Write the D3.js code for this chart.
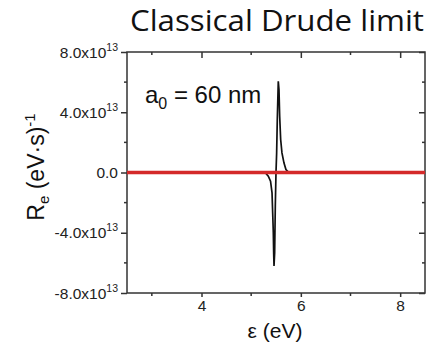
<!DOCTYPE html>
<html>
<head>
<meta charset="utf-8">
<script src="https://cdn.jsdelivr.net/npm/d3@7"></script>
<style>
  body { margin: 0; background: #fff; }
  svg { display: block; }
  .tick-label { font-family: "Liberation Sans", Arial, sans-serif; font-size: 15.5px; fill: #222; }
</style>
</head>
<body>
<svg id="chart" width="431" height="348"></svg>
<script>
// data (rate in units of 1e13 (eV·s)^-1)
const energy = [5.28, 5.345, 5.39, 5.42, 5.433, 5.446, 5.453, 5.46, 5.473, 5.486, 5.5, 5.513, 5.526, 5.546, 5.56, 5.574, 5.594, 5.62, 5.66, 5.70, 5.75];
const rate = [0, -0.24, -0.58, -1.35, -2.67, -4.0, -5.33, -6.2, -5.33, -2.23, 0, 1.3, 3.5, 6.05, 5.5, 3.73, 2.19, 1.3, 0.64, 0.2, 0.03];
const drudeEnergy = [2.5, 8.5];
const drudeRate = [0, 0];

const xDomain = [2.5, 8.5];
const yDomain = [-8e13, 8e13];
const xMajor = [4, 6, 8];
const xMinor = [3, 5, 7];
const yMajor = [-8e13, -4e13, 0, 4e13, 8e13];
const yMinor = [-6e13, -2e13, 2e13, 6e13];
const yTickText = ["-8.0x10", "-4.0x10", "0.0", "4.0x10", "8.0x10"];
const yTickExp = ["13", "13", "", "13", "13"];

const svg = d3.select("#chart");
const margin = {top: 52, right: 6, bottom: 55, left: 127};
const W = +svg.attr("width"), H = +svg.attr("height");

const x = d3.scaleLinear().domain(xDomain).range([margin.left, W - margin.right]);
const y = d3.scaleLinear().domain(yDomain).range([H - margin.bottom, margin.top]);

const axisColor = "#333";

// frame
svg.append("rect")
  .attr("x", x.range()[0]).attr("y", y.range()[1])
  .attr("width", x.range()[1] - x.range()[0])
  .attr("height", y.range()[0] - y.range()[1])
  .attr("fill", "none").attr("stroke", axisColor).attr("stroke-width", 1.5);

// bottom axis: outward ticks
const gBottom = svg.append("g").attr("transform", `translate(0,${y.range()[0]})`);
gBottom.call(d3.axisBottom(x).tickValues(xMajor).tickSize(4).tickFormat(d3.format("d")).tickPadding(3))
  .call(g => g.select(".domain").remove())
  .call(g => g.selectAll("line").attr("stroke", axisColor).attr("stroke-width", 1.5))
  .call(g => g.selectAll("text").attr("class", "tick-label"));
gBottom.attr("font-size", null).attr("font-family", null);
gBottom.selectAll(".minor").data(xMinor).enter().append("line")
  .attr("x1", d => x(d)).attr("x2", d => x(d)).attr("y1", 0).attr("y2", 3)
  .attr("stroke", axisColor).attr("stroke-width", 1.5);

// top axis: inward ticks
const gTop = svg.append("g").attr("transform", `translate(0,${y.range()[1]})`);
gTop.call(d3.axisBottom(x).tickValues(xMajor).tickSize(6).tickFormat(""))
  .call(g => g.select(".domain").remove())
  .call(g => g.selectAll("line").attr("stroke", axisColor).attr("stroke-width", 1.5));
gTop.selectAll(".minor").data(xMinor).enter().append("line")
  .attr("x1", d => x(d)).attr("x2", d => x(d)).attr("y1", 0).attr("y2", 3)
  .attr("stroke", axisColor).attr("stroke-width", 1.5);

// left axis: outward ticks, labels with superscript exponent
const gLeft = svg.append("g").attr("transform", `translate(${x.range()[0]},0)`);
gLeft.call(d3.axisLeft(y).tickValues(yMajor).tickSize(6).tickFormat(""))
  .call(g => g.select(".domain").remove())
  .call(g => g.selectAll("line").attr("stroke", axisColor).attr("stroke-width", 1.5));
gLeft.selectAll(".minor").data(yMinor).enter().append("line")
  .attr("x1", 0).attr("x2", -3).attr("y1", d => y(d)).attr("y2", d => y(d))
  .attr("stroke", axisColor).attr("stroke-width", 1.5);
const ylab = gLeft.selectAll(".ylab").data(yMajor).enter().append("text")
  .attr("class", "tick-label")
  .attr("text-anchor", "end")
  .attr("x", -9)
  .attr("y", d => y(d) + 5.5);
ylab.append("tspan").text((d, i) => yTickText[i]);
ylab.append("tspan").attr("font-size", 10.5).attr("dy", -7).text((d, i) => yTickExp[i]);

// right axis: inward ticks
const gRight = svg.append("g").attr("transform", `translate(${x.range()[1]},0)`);
gRight.call(d3.axisRight(y).tickValues(yMajor).tickSize(-6).tickFormat(""))
  .call(g => g.select(".domain").remove())
  .call(g => g.selectAll("line").attr("stroke", axisColor).attr("stroke-width", 1.5));
gRight.selectAll(".minor").data(yMinor).enter().append("line")
  .attr("x1", 0).attr("x2", -3).attr("y1", d => y(d)).attr("y2", d => y(d))
  .attr("stroke", axisColor).attr("stroke-width", 1.5);

// curve
const line = d3.line().x(d => x(d)).y((d, i) => y(rate[i] * 1e13));
svg.append("path").datum(energy)
  .attr("d", line)
  .attr("fill", "none").attr("stroke", "#111").attr("stroke-width", 1.7);

// classical Drude limit (red line at zero)
const redLine = d3.line().x(d => x(d)).y((d, i) => y(drudeRate[i]));
svg.append("path").datum(drudeEnergy)
  .attr("d", redLine)
  .attr("fill", "none").attr("stroke", "#d42a2a").attr("stroke-width", 3.5);

// annotation
const ann = svg.append("text")
  .attr("x", 145).attr("y", 103)
  .attr("font-family", "Liberation Sans, Arial, sans-serif")
  .attr("font-size", 24).attr("fill", "#111");
ann.append("tspan").text("a");
ann.append("tspan").attr("font-size", 16).attr("dy", 6).text("0");
ann.append("tspan").attr("dy", -6).text(" = 60 nm");

// axis titles
svg.append("text")
  .attr("x", 275).attr("y", 338)
  .attr("text-anchor", "middle")
  .attr("font-family", "Liberation Sans, Arial, sans-serif")
  .attr("font-size", 21).attr("fill", "#111")
  .text("ε (eV)");

const yt = svg.append("text")
  .attr("transform", "translate(44,167) rotate(-90)")
  .attr("text-anchor", "middle")
  .attr("font-family", "Liberation Sans, Arial, sans-serif")
  .attr("font-size", 23).attr("fill", "#111");
yt.append("tspan").text("R");
yt.append("tspan").attr("font-size", 15).attr("dy", 5).text("e");
yt.append("tspan").attr("dy", -5).text(" (eV·s)");
yt.append("tspan").attr("font-size", 15).attr("dy", -9).text("-1");

// title
svg.append("text")
  .attr("x", 277).attr("y", 31)
  .attr("text-anchor", "middle")
  .attr("font-family", "Open Sans, Noto Sans, sans-serif")
  .attr("font-size", 29).attr("fill", "#111")
  .attr("textLength", 294).attr("lengthAdjust", "spacingAndGlyphs")
  .text("Classical Drude limit");
</script>
</body>
</html>
